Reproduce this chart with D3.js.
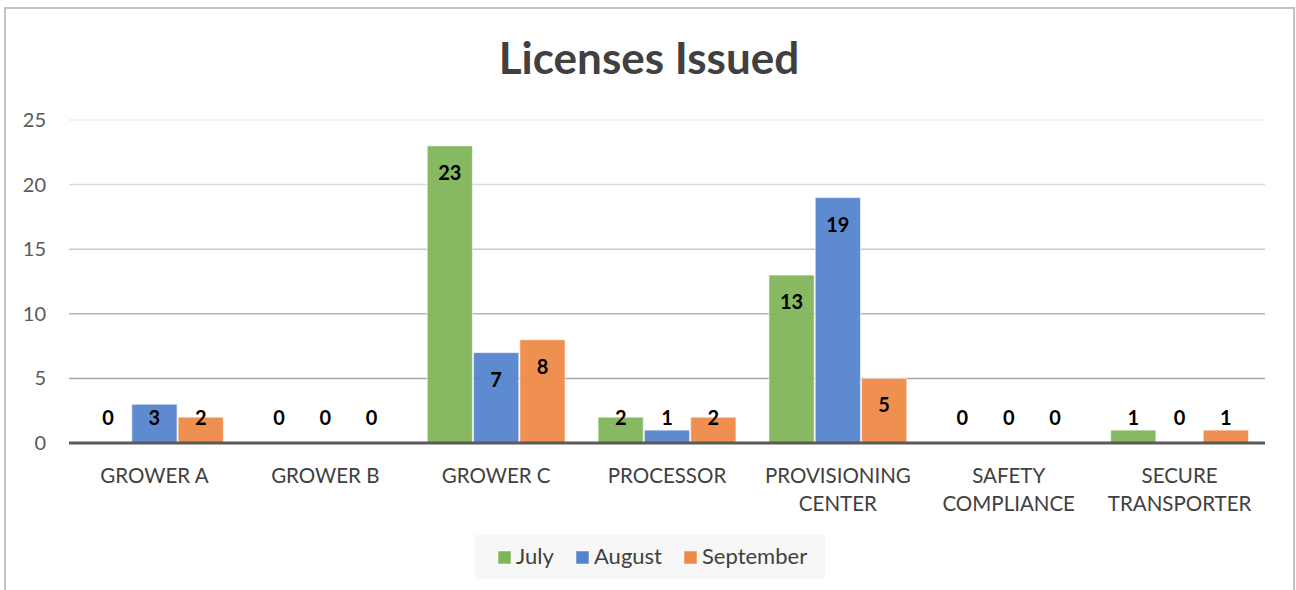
<!DOCTYPE html>
<html>
<head>
<meta charset="utf-8">
<script src="https://cdn.jsdelivr.net/npm/d3@7"></script>
<style>
  html, body { margin: 0; padding: 0; background: #fff; }
  svg { display: block; }
  text { font-family: Lato, "Open Sans", sans-serif; }
</style>
</head>
<body>
<svg id="chart" width="1296" height="590"></svg>
<script>
const categories = [["GROWER A"], ["GROWER B"], ["GROWER C"], ["PROCESSOR"], ["PROVISIONING", "CENTER"], ["SAFETY", "COMPLIANCE"], ["SECURE", "TRANSPORTER"]];
const seriesNames = ["July", "August", "September"];
const july = [0, 0, 23, 2, 13, 0, 1];
const august = [3, 0, 7, 1, 19, 0, 0];
const september = [2, 0, 8, 2, 5, 0, 1];
const yTicks = [0, 5, 10, 15, 20, 25];
const colors = ["#7fb55a", "#5584cc", "#ee8a47"];
const chartTitle = "Licenses Issued";

(function () {
const svg = d3.select("#chart");
const pLeft = 69, pRight = 1265, pTop = 120, pBottom = 443;

// Border
svg.append("rect").attr("x", 5).attr("y", 8).attr("width", 1289).attr("height", 600)
  .attr("fill", "#fff").attr("stroke", "#c4c4c4").attr("stroke-width", 2);

const catKeys = categories.map(c => c.join(" "));
const x0 = d3.scaleBand().domain(catKeys).range([pLeft, pRight]).paddingInner(0.187).paddingOuter(0.0935);
const x1 = d3.scaleBand().domain(seriesNames).range([0, x0.bandwidth()]);
const y = d3.scaleLinear().domain([0, 25]).range([pBottom, pTop]);

// Title
svg.append("text").attr("x", 649).attr("y", 74).attr("text-anchor", "middle")
  .attr("font-size", 44).attr("font-weight", 700).attr("fill", "#404040").text(chartTitle);

// Gridlines with fading colours
const gridColors = d3.scaleLinear().domain([5, 25]).range(["#a6a6a6", "#ececec"]);
svg.append("g").selectAll("line").data(yTicks.filter(t => t > 0)).join("line")
  .attr("x1", pLeft).attr("x2", pRight)
  .attr("y1", d => y(d)).attr("y2", d => y(d))
  .attr("stroke", d => gridColors(d)).attr("stroke-width", 1.5);

// Y axis labels via d3 axis
const yAxis = svg.append("g").attr("transform", `translate(${pLeft},0)`)
  .call(d3.axisLeft(y).tickValues(yTicks).tickSize(0).tickPadding(23));
yAxis.select(".domain").remove();
yAxis.selectAll("text").attr("font-size", 20).attr("fill", "#595959")
  .attr("font-family", "Lato, 'Open Sans', sans-serif");

// Bars
const data = catKeys.map((k, i) => ({ key: k, values: [july[i], august[i], september[i]] }));
const groups = svg.append("g").selectAll("g").data(data).join("g")
  .attr("transform", d => `translate(${x0(d.key)},0)`);
groups.selectAll("rect").data(d => d.values.map((v, j) => ({ v, s: seriesNames[j], j }))).join("rect")
  .attr("x", d => x1(d.s) + 0.5)
  .attr("width", x1.bandwidth() - 1)
  .attr("y", d => y(d.v))
  .attr("height", d => pBottom - y(d.v))
  .attr("fill", d => colors[d.j]).attr("fill-opacity", 0.95)
  .attr("stroke", "#ffffff").attr("stroke-opacity", 0.55).attr("stroke-width", 1.2);

// Data labels
groups.selectAll("text.lbl").data(d => d.values.map((v, j) => ({ v, s: seriesNames[j], j }))).join("text")
  .attr("class", "lbl")
  .attr("x", d => x1(d.s) + x1.bandwidth() / 2)
  .attr("y", d => Math.min(y(d.v) + 27, 418))
  .attr("dy", "0.35em")
  .attr("text-anchor", "middle").attr("font-size", 20).attr("font-weight", 700).attr("fill", "#000")
  .text(d => d.v);

// Baseline
svg.append("line").attr("x1", pLeft).attr("x2", pRight).attr("y1", y(0)).attr("y2", y(0))
  .attr("stroke", "#595959").attr("stroke-width", 3);

// X axis labels
const xAxis = svg.append("g").attr("transform", `translate(0,${pBottom})`)
  .call(d3.axisBottom(x0).tickSize(0).tickFormat(""));
xAxis.select(".domain").remove();
xAxis.selectAll(".tick").each(function(d, i) {
  const t = d3.select(this).append("text").attr("text-anchor", "middle")
    .attr("font-size", 20.5).attr("fill", "#404040")
    .attr("font-family", "Lato, 'Open Sans', sans-serif");
  categories[i].forEach((line, li) => {
    t.append("tspan").attr("x", 0).attr("y", 40 + li * 28).text(line);
  });
});

// Legend
const lg = svg.append("g");
lg.append("rect").attr("x", 475).attr("y", 535).attr("width", 350).attr("height", 44).attr("fill", "#f7f7f7");
const legendX = [498, 576, 684];
seriesNames.forEach((s, i) => {
  lg.append("rect").attr("x", legendX[i]).attr("y", 551).attr("width", 13).attr("height", 13)
    .attr("fill", colors[i]).attr("stroke", "#fff").attr("stroke-opacity", 0.5);
  lg.append("text").attr("x", legendX[i] + 18).attr("y", 564)
    .attr("font-size", 22).attr("fill", "#404040").text(s);
});
})();
</script>
</body>
</html>
